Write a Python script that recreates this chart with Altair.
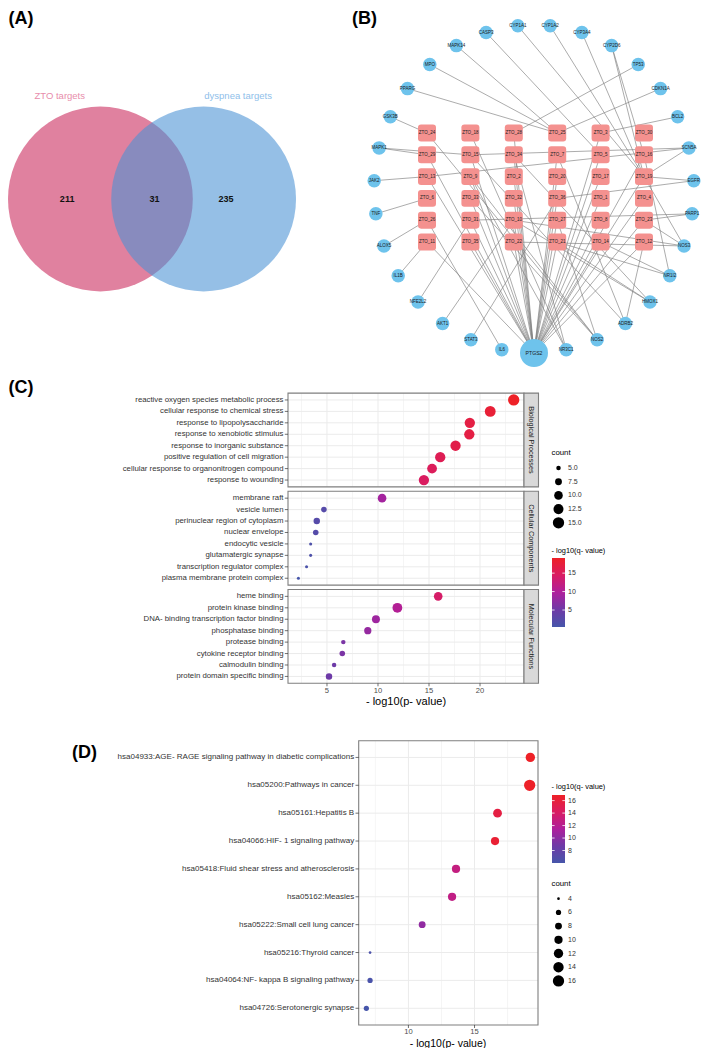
import math
import altair as alt
import pandas as pd

# ================= DATA =================
# (A) Venn diagram
venn_sets = ["ZTO targets", "dyspnea targets"]
venn_counts = [211, 31, 235]          # ZTO only, shared, dyspnea only

# (B) compound-target network (targets listed clockwise from the top)
ring_targets = ["CYP1A2", "CYP3A4", "CYP2D6", "TP53", "CDKN1A", "BCL2", "SCN5A",
                "EGFR", "PARP1", "NOS3", "NR1I2", "HMOX1", "ADRB2", "NOS2", "NR3C1",
                "PTGS2", "IL6", "STAT3", "AKT1", "NFE2L2", "IL1B", "ALOX5", "TNF",
                "JAK2", "MAPK1", "GSK3B", "PPARG", "MPO", "MAPK14", "CASP3", "CYP1A1"]
hub_target = "PTGS2"
compound_col1 = ["ZTO_24", "ZTO_29", "ZTO_13", "ZTO_6", "ZTO_26", "ZTO_11"]
compound_col2 = ["ZTO_18", "ZTO_15", "ZTO_9", "ZTO_33", "ZTO_31", "ZTO_35"]
compound_col3 = ["ZTO_28", "ZTO_34", "ZTO_2", "ZTO_32", "ZTO_10", "ZTO_22"]
compound_col4 = ["ZTO_25", "ZTO_7", "ZTO_20", "ZTO_36", "ZTO_27", "ZTO_21"]
compound_col5 = ["ZTO_3", "ZTO_5", "ZTO_17", "ZTO_1", "ZTO_8", "ZTO_14"]
compound_col6 = ["ZTO_30", "ZTO_16", "ZTO_19", "ZTO_4", "ZTO_23", "ZTO_12"]
hub_compounds = ["ZTO_11", "ZTO_31", "ZTO_35", "ZTO_33", "ZTO_9", "ZTO_15", "ZTO_2",
                 "ZTO_32", "ZTO_10", "ZTO_22", "ZTO_34", "ZTO_20", "ZTO_36", "ZTO_27",
                 "ZTO_21", "ZTO_7", "ZTO_17", "ZTO_1", "ZTO_8", "ZTO_14", "ZTO_5",
                 "ZTO_19", "ZTO_23", "ZTO_4", "ZTO_12", "ZTO_16", "ZTO_13", "ZTO_29",
                 "ZTO_28", "ZTO_3"]
other_edges = [("ZTO_5", "CASP3"), ("ZTO_19", "CYP1A1"), ("ZTO_19", "CYP1A2"),
               ("ZTO_19", "CYP3A4"), ("ZTO_16", "CYP2D6"), ("ZTO_19", "CYP2D6"),
               ("ZTO_28", "TP53"), ("ZTO_25", "CDKN1A"), ("ZTO_3", "BCL2"),
               ("ZTO_19", "SCN5A"), ("ZTO_15", "SCN5A"), ("ZTO_13", "SCN5A"),
               ("ZTO_19", "EGFR"), ("ZTO_36", "EGFR"), ("ZTO_23", "PARP1"),
               ("ZTO_31", "PARP1"), ("ZTO_19", "NOS3"), ("ZTO_22", "NOS3"),
               ("ZTO_23", "NOS3"), ("ZTO_10", "NOS3"), ("ZTO_16", "NR1I2"),
               ("ZTO_14", "NR1I2"), ("ZTO_21", "NR1I2"), ("ZTO_34", "HMOX1"),
               ("ZTO_21", "HMOX1"), ("ZTO_10", "HMOX1"), ("ZTO_12", "ADRB2"),
               ("ZTO_7", "ADRB2"), ("ZTO_15", "ADRB2"), ("ZTO_9", "NOS2"),
               ("ZTO_27", "NOS2"), ("ZTO_33", "NOS2"), ("ZTO_24", "NOS2"),
               ("ZTO_18", "NR3C1"), ("ZTO_9", "NR3C1"), ("ZTO_34", "NR3C1"),
               ("ZTO_26", "IL6"), ("ZTO_36", "STAT3"), ("ZTO_10", "AKT1"),
               ("ZTO_31", "NFE2L2"), ("ZTO_11", "IL1B"), ("ZTO_26", "ALOX5"),
               ("ZTO_6", "TNF"), ("ZTO_13", "JAK2"), ("ZTO_29", "MAPK1"),
               ("ZTO_15", "MAPK1"), ("ZTO_24", "GSK3B"), ("ZTO_25", "PPARG"),
               ("ZTO_25", "MPO"), ("ZTO_25", "MAPK14")]

# (C) GO enrichment
go_categories = ["Biological Processes", "Cellular Components", "Molecular Functions"]
bp_terms = ["reactive oxygen species metabolic process", "cellular response to chemical stress",
            "response to lipopolysaccharide", "response to xenobiotic stimulus",
            "response to inorganic substance", "positive regulation of cell migration",
            "cellular response to organonitrogen compound", "response to wounding"]
bp_logp = [23.3, 21.0, 19.0, 18.95, 17.6, 16.1, 15.3, 14.5]
bp_count = [15, 14, 13, 13, 13, 13, 12, 13]
bp_logq = [19.1, 17.8, 16.8, 16.8, 16.3, 15.5, 15.0, 14.6]
cc_terms = ["membrane raft", "vesicle lumen", "perinuclear region of cytoplasm",
            "nuclear envelope", "endocytic vesicle", "glutamatergic synapse",
            "transcription regulator complex", "plasma membrane protein complex"]
cc_logp = [10.4, 4.7, 4.0, 3.9, 3.4, 3.4, 3.0, 2.2]
cc_count = [10, 6, 7, 6, 4, 4, 4, 4]
cc_logq = [9.0, 2.3, 2.3, 2.2, 1.3, 1.3, 1.0, 0.4]
mf_terms = ["heme binding", "protein kinase binding", "DNA- binding transcription factor binding",
            "phosphatase binding", "protease binding", "cytokine receptor binding",
            "calmodulin binding", "protein domain specific binding"]
mf_logp = [15.9, 11.9, 9.8, 9.0, 6.6, 6.5, 5.7, 5.2]
mf_count = [10, 12, 9, 8, 5, 6, 5, 7]
mf_logq = [14.0, 10.3, 8.6, 7.9, 6.0, 6.0, 5.0, 5.0]
go_x_breaks = [5, 10, 15, 20]
go_count_breaks = [5.0, 7.5, 10.0, 12.5, 15.0]
go_q_breaks = [5, 10, 15]

# (D) KEGG enrichment
kegg_terms = ["hsa04933:AGE- RAGE signaling pathway in diabetic complications",
              "hsa05200:Pathways in cancer", "hsa05161:Hepatitis B",
              "hsa04066:HIF- 1 signaling pathway",
              "hsa05418:Fluid shear stress and atherosclerosis", "hsa05162:Measles",
              "hsa05222:Small cell lung cancer", "hsa05216:Thyroid cancer",
              "hsa04064:NF- kappa B signaling pathway", "hsa04726:Serotonergic synapse"]
kegg_logp = [19.22, 19.17, 16.74, 16.55, 13.6, 13.3, 11.04, 7.1, 7.1, 6.82]
kegg_count = [12, 16, 11, 10, 10, 10, 8, 4, 6, 6]
kegg_logq = [16.9, 16.8, 15.6, 16.3, 12.8, 12.6, 10.2, 6.4, 6.3, 6.0]
kegg_x_breaks = [10, 15]
kegg_q_breaks = [8, 10, 12, 14, 16]
kegg_count_breaks = [4, 6, 8, 10, 12, 14, 16]

# ================= STYLE / LAYOUT =================
FONT = "Liberation Sans"
RAMP = ["#4656AA", "#6E3AA7", "#AE1F9C", "#D91C62", "#EE2127"]
BLUE = "#6EC3EC"
PINK = "#F4918F"
GRID = "#EBEBEB"
BORDER = "#7F7F7F"
TXT = "#4D4D4D"


def px(v):
    return v - 8.0


def one():
    return pd.DataFrame({"k": [0]})


def label(text, x, y, size, color="#000000", weight="normal", align="left", angle=0):
    mk = dict(font=FONT, fontSize=size, color=color, fontWeight=weight,
              align=align, baseline="middle")
    if angle:
        mk["angle"] = angle
    return alt.Chart(pd.DataFrame({"t": [text]})).mark_text(**mk).encode(
        x=alt.value(px(x)), y=alt.value(px(y)), text="t:N")


def box(x1, y1, x2, y2, fill=None, stroke=BORDER, sw=1.1):
    mk = dict(stroke=stroke, strokeWidth=sw)
    if fill:
        mk["fill"] = fill
    else:
        mk["fillOpacity"] = 0
    return alt.Chart(one()).mark_rect(**mk).encode(
        x=alt.value(px(x1)), x2=alt.value(px(x2)), y=alt.value(px(y1)), y2=alt.value(px(y2)))


def ramp_scale(lo, hi):
    dom = [lo + (hi - lo) * i / (len(RAMP) - 1) for i in range(len(RAMP))]
    return alt.Scale(domain=dom, range=RAMP, interpolate="rgb")


layers = []

# ================= (A) =================
layers.append(label("(A)", 8.5, 18.5, 18, weight="bold"))
V_R, V_LX, V_Y, V_D = 92.4, 100.4, 199.0, 1.117
venn_x = alt.Scale(domain=[-1, 1], range=[px(V_LX - V_R), px(V_LX + V_R)])
venn_y = alt.Scale(domain=[-1, 1], range=[px(V_Y + V_R), px(V_Y - V_R)])
for cx, col, op in [(0.0, "#E0819F", 1.0), (V_D, "#4A92D4", 0.59)]:
    layers.append(alt.Chart(pd.DataFrame({"u": [cx], "v": [0.0]})).mark_circle(
        color=col, opacity=op, size=(2 * V_R) ** 2).encode(
        x=alt.X("u:Q", scale=venn_x, axis=None), y=alt.Y("v:Q", scale=venn_y, axis=None)))
set_df = pd.DataFrame({"t": venn_sets, "u": [-0.44, 1.49], "v": [1.117, 1.117],
                       "c": ["#E88DAB", "#8FC0EA"]})
for i in range(2):
    layers.append(alt.Chart(set_df.iloc[[i]]).mark_text(
        font=FONT, fontSize=9.5, color=set_df.c[i], align="center", baseline="middle").encode(
        x=alt.X("u:Q", scale=venn_x, axis=None), y=alt.Y("v:Q", scale=venn_y, axis=None),
        text="t:N"))
num_df = pd.DataFrame({"t": [str(c) for c in venn_counts], "u": [-0.36, 0.585, 1.36],
                       "v": [0.0, 0.0, 0.0]})
layers.append(alt.Chart(num_df).mark_text(
    font=FONT, fontSize=9, fontWeight="bold", color="#111111", align="center",
    baseline="middle").encode(
    x=alt.X("u:Q", scale=venn_x, axis=None), y=alt.Y("v:Q", scale=venn_y, axis=None),
    text="t:N"))

# ================= (B) =================
layers.append(label("(B)", 352, 18.5, 18, weight="bold"))
N_CX, N_CY, N_RX, N_RY = 534.0, 189.0, 160.0, 164.0
net_x = alt.Scale(domain=[-1, 1], range=[px(N_CX - N_RX), px(N_CX + N_RX)])
net_y = alt.Scale(domain=[-1, 1], range=[px(N_CY + N_RY), px(N_CY - N_RY)])
pos = {}
n_ring = len(ring_targets)
for k, name in enumerate(ring_targets):
    th = (k + 0.5) * 2 * math.pi / n_ring
    pos[name] = (math.sin(th), math.cos(th))
compound_cols = [compound_col1, compound_col2, compound_col3,
                 compound_col4, compound_col5, compound_col6]
for c, col in enumerate(compound_cols):
    for r, name in enumerate(col):
        X = 427.0 + 43.4 * c
        Y = 133.0 + 21.8 * r
        pos[name] = ((X - N_CX) / N_RX, (N_CY - Y) / N_RY)
edge_pairs = [(c, hub_target) for c in hub_compounds] + other_edges
edge_df = pd.DataFrame({
    "x": [pos[a][0] for a, b in edge_pairs], "y": [pos[a][1] for a, b in edge_pairs],
    "x2": [pos[b][0] for a, b in edge_pairs], "y2": [pos[b][1] for a, b in edge_pairs]})
NX = alt.X("x:Q", scale=net_x, axis=None)
NY = alt.Y("y:Q", scale=net_y, axis=None)
layers.append(alt.Chart(edge_df).mark_rule(color="#7F7F7F", strokeWidth=0.65).encode(
    x=NX, y=NY, x2="x2:Q", y2="y2:Q"))
ring_df = pd.DataFrame({"name": ring_targets, "x": [pos[n][0] for n in ring_targets],
                        "y": [pos[n][1] for n in ring_targets]})
comp_names = [n for col in compound_cols for n in col]
comp_df = pd.DataFrame({"name": comp_names, "x": [pos[n][0] for n in comp_names],
                        "y": [pos[n][1] for n in comp_names]})
layers.append(alt.Chart(ring_df[ring_df.name != hub_target]).mark_circle(
    color=BLUE, opacity=1, size=182).encode(x=NX, y=NY))
layers.append(alt.Chart(ring_df[ring_df.name == hub_target]).mark_circle(
    color=BLUE, opacity=1, size=784).encode(x=NX, y=NY))
ROUND_SQ = ("M -0.66,-0.94 L 0.66,-0.94 Q 1,-0.94 1,-0.6 L 1,0.6 Q 1,0.94 0.66,0.94 "
            "L -0.66,0.94 Q -1,0.94 -1,0.6 L -1,-0.6 Q -1,-0.94 -0.66,-0.94 Z")
layers.append(alt.Chart(comp_df).mark_point(
    shape=ROUND_SQ, filled=True, color=PINK, opacity=1, size=324, strokeWidth=0).encode(
    x=NX, y=NY))
layers.append(alt.Chart(ring_df[ring_df.name != hub_target]).mark_text(
    font=FONT, fontSize=4.5, color="#1A1A1A", align="center", baseline="middle").encode(
    x=NX, y=NY, text="name:N"))
layers.append(alt.Chart(ring_df[ring_df.name == hub_target]).mark_text(
    font=FONT, fontSize=5.2, color="#1A1A1A", align="center", baseline="middle").encode(
    x=NX, y=NY, text="name:N"))
layers.append(alt.Chart(comp_df).mark_text(
    font=FONT, fontSize=4.5, color="#222222", align="center", baseline="middle").encode(
    x=NX, y=NY, text="name:N"))


# ================= dot-plot helpers =================
def vgrid(vals, xscale, top, bottom, width):
    return alt.Chart(pd.DataFrame({"v": vals})).mark_rule(color=GRID, strokeWidth=width).encode(
        x=alt.X("v:Q", scale=xscale, axis=None), y=alt.value(px(top)), y2=alt.value(px(bottom)))


def dot_panel(terms, logp, count, logq, top, bottom, left, right, xscale, sscale, cscale,
              minor, major, lab_size):
    df = pd.DataFrame({"term": terms, "logp": logp, "count": count, "logq": logq})
    ys = alt.Scale(type="point", domain=terms, range=[px(top), px(bottom)], padding=0.6)
    Y = alt.Y("term:N", scale=ys, axis=None)
    out = [
        vgrid(minor, xscale, top, bottom, 0.5),
        vgrid(major, xscale, top, bottom, 1.0),
        alt.Chart(df).mark_rule(color=GRID, strokeWidth=1.0).encode(
            y=Y, x=alt.value(px(left)), x2=alt.value(px(right))),
        alt.Chart(df).mark_circle(opacity=1).encode(
            x=alt.X("logp:Q", scale=xscale, axis=None), y=Y,
            size=alt.Size("count:Q", scale=sscale, legend=None),
            color=alt.Color("logq:Q", scale=cscale, legend=None)),
        box(left, top, right, bottom),
        alt.Chart(df).mark_rule(color="#333333", strokeWidth=0.7).encode(
            y=Y, x=alt.value(px(left - 3.2)), x2=alt.value(px(left))),
        alt.Chart(df).mark_text(font=FONT, fontSize=lab_size, color="#333333",
                                align="right", baseline="middle").encode(
            y=Y, x=alt.value(px(left - 4.5)), text="term:N"),
    ]
    return out


def x_axis(breaks, xscale, bottom, lab_y, title, title_x, title_y, title_size):
    df = pd.DataFrame({"v": breaks, "lab": [str(b) for b in breaks]})
    X = alt.X("v:Q", scale=xscale, axis=None)
    return [
        alt.Chart(df).mark_rule(color="#333333", strokeWidth=0.7).encode(
            x=X, y=alt.value(px(bottom)), y2=alt.value(px(bottom + 3.0))),
        alt.Chart(df).mark_text(font=FONT, fontSize=7.6, color=TXT, align="center",
                                baseline="middle").encode(x=X, y=alt.value(px(lab_y)), text="lab:N"),
        label(title, title_x, title_y, title_size, color="#000000", align="center"),
    ]


def size_legend(title, values, labs, sscale, title_y, first_y, step):
    df = pd.DataFrame({"v": values, "lab": labs})
    ys = alt.Scale(type="point", domain=labs,
                   range=[px(first_y), px(first_y + step * (len(labs) - 1))], padding=0)
    Y = alt.Y("lab:N", scale=ys, axis=None)
    return [
        label(title, 551.5, title_y, 7.8),
        alt.Chart(df).mark_circle(color="#000000", opacity=1).encode(
            x=alt.value(px(558.5)), y=Y, size=alt.Size("v:Q", scale=sscale, legend=None)),
        alt.Chart(df).mark_text(font=FONT, fontSize=7, color="#333333", align="left",
                                baseline="middle").encode(x=alt.value(px(568)), y=Y, text="lab:N"),
    ]


def color_legend(title, lo, hi, breaks, title_y, y_top, y_bot):
    ys = alt.Scale(domain=[lo, hi], range=[px(y_bot), px(y_top)])
    grad = {"gradient": "linear", "x1": 0, "y1": 1, "x2": 0, "y2": 0,
            "stops": [{"offset": i / (len(RAMP) - 1), "color": c} for i, c in enumerate(RAMP)]}
    bdf = pd.DataFrame({"a": [lo], "b": [hi]})
    tdf = pd.DataFrame({"v": breaks, "lab": [str(b) for b in breaks]})
    TY = alt.Y("v:Q", scale=ys, axis=None)
    return [
        label(title, 551.5, title_y, 7.4),
        alt.Chart(bdf).mark_rect(fill=grad).encode(
            x=alt.value(px(552)), x2=alt.value(px(565)),
            y=alt.Y("a:Q", scale=ys, axis=None), y2="b:Q"),
        alt.Chart(tdf).mark_rule(color="#FFFFFF", strokeWidth=0.8).encode(
            y=TY, x=alt.value(px(552)), x2=alt.value(px(554.6))),
        alt.Chart(tdf).mark_rule(color="#FFFFFF", strokeWidth=0.8).encode(
            y=TY, x=alt.value(px(562.4)), x2=alt.value(px(565))),
        alt.Chart(tdf).mark_text(font=FONT, fontSize=7, color="#333333", align="left",
                                 baseline="middle").encode(x=alt.value(px(568)), y=TY, text="lab:N"),
    ]


# ================= (C) =================
layers.append(label("(C)", 8.5, 388, 18, weight="bold"))
C_L, C_R, C_H = 288.0, 524.0, 93.8
C_TOPS = [393.1, 491.3, 589.5]
go_lo, go_hi = min(bp_logq + cc_logq + mf_logq), max(bp_logq + cc_logq + mf_logq)
go_x = alt.Scale(domain=[1.18, 24.31], range=[px(C_L), px(C_R)])
go_size = alt.Scale(domain=[4, 15], range=[9.2, 128], zero=False)
go_color = ramp_scale(go_lo, go_hi)
panels = [(bp_terms, bp_logp, bp_count, bp_logq), (cc_terms, cc_logp, cc_count, cc_logq),
          (mf_terms, mf_logp, mf_count, mf_logq)]
for (terms, lp, cn, lq), top, cat in zip(panels, C_TOPS, go_categories):
    layers += dot_panel(terms, lp, cn, lq, top, top + C_H, C_L, C_R, go_x, go_size, go_color,
                        [2.5, 7.5, 12.5, 17.5, 22.5], go_x_breaks, 7.8)
    layers.append(box(C_R, top, 538.5, top + C_H, fill="#D9D9D9"))
    layers.append(label(cat, 531.3, top + C_H / 2, 7.3, color="#1A1A1A", align="center", angle=90))
layers += x_axis(go_x_breaks, go_x, C_TOPS[2] + C_H, 690.5, "- log10(p- value)", 406, 702, 11)
layers += size_legend("count", go_count_breaks, ["%.1f" % v for v in go_count_breaks],
                      go_size, 453, 468, 13.7)
layers += color_legend("- log10(q- value)", go_lo, go_hi, go_q_breaks, 551, 558, 627)

# ================= (D) =================
layers.append(label("(D)", 72, 753, 18, weight="bold"))
D_L, D_R, D_T, D_B = 358.7, 538.0, 740.7, 1025.0
kg_lo, kg_hi = min(kegg_logq), max(kegg_logq)
kg_x = alt.Scale(domain=[6.24, 19.8], range=[px(D_L), px(D_R)])
kg_size = alt.Scale(domain=[4, 16], range=[7.3, 128], zero=False)
kg_color = ramp_scale(kg_lo, kg_hi)
layers += dot_panel(kegg_terms, kegg_logp, kegg_count, kegg_logq, D_T, D_B, D_L, D_R,
                    kg_x, kg_size, kg_color, [7.5, 12.5, 17.5], kegg_x_breaks, 8.0)
layers += x_axis(kegg_x_breaks, kg_x, D_B, 1032.0, "- log10(p- value)", 448, 1043.5, 10.5)
layers += color_legend("- log10(q- value)", kg_lo, kg_hi, kegg_q_breaks, 787, 795, 863)
layers += size_legend("count", kegg_count_breaks, [str(v) for v in kegg_count_breaks],
                      kg_size, 884, 898.7, 13.7)

chart = alt.layer(*layers).resolve_scale(
    x="independent", y="independent", color="independent", size="independent"
).properties(
    width=693, height=1040, padding=0, autosize=alt.AutoSizeParams(type="none")
).configure_view(strokeWidth=0)

chart.save("out.html", embed_options={"renderer": "svg", "actions": False})
